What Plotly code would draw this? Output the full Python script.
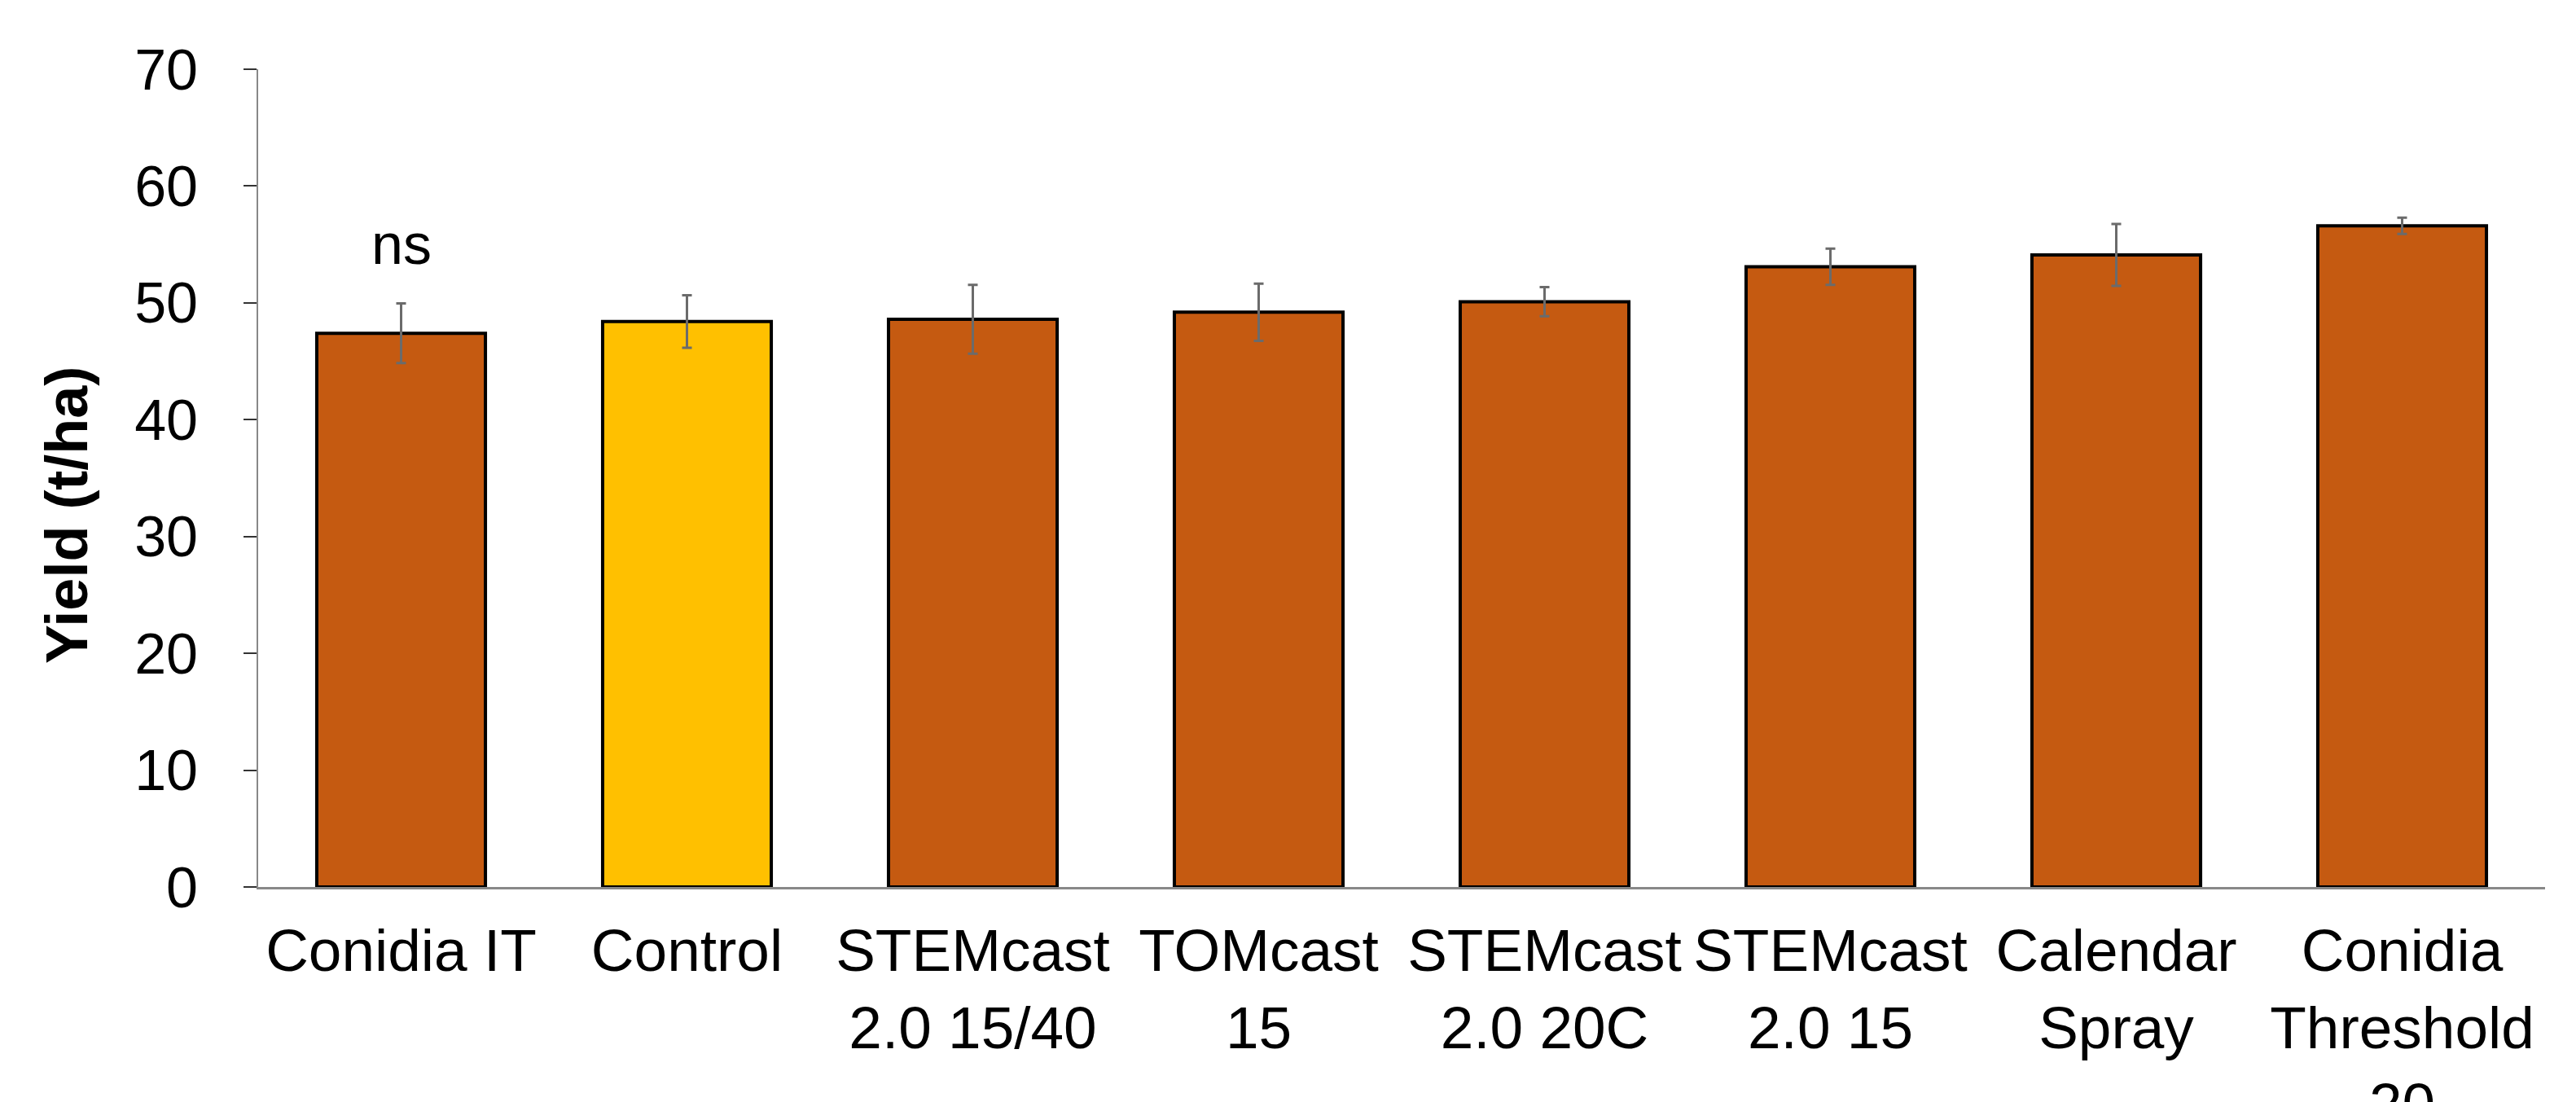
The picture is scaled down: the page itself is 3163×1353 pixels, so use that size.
import plotly.graph_objects as go

categories = ["Conidia IT", "Control", "STEMcast<br>2.0 15/40", "TOMcast<br>15",
              "STEMcast<br>2.0 20C", "STEMcast<br>2.0 15", "Calendar<br>Spray",
              "Conidia<br>Threshold<br>20"]
yield_vals = [47.4, 48.4, 48.6, 49.2, 50.1, 53.1, 54.1, 56.6]
err_vals = [2.55, 2.25, 2.95, 2.45, 1.25, 1.55, 2.65, 0.7]
bar_colors = ["#C55A11", "#FFC000", "#C55A11", "#C55A11", "#C55A11", "#C55A11", "#C55A11", "#C55A11"]
y_ticks = [0, 10, 20, 30, 40, 50, 60, 70]

W, H = 3163, 1353
L, R, T, B = 309, 46, 77, 272
FONT = "Liberation Sans, Arial, sans-serif"

fig = go.Figure()
fig.add_trace(go.Bar(
    x=categories, y=yield_vals,
    marker=dict(color=bar_colors, line=dict(color="#000000", width=4)),
    error_y=dict(type="data", array=err_vals, visible=True,
                 color="#6b6b6b", thickness=3, width=6),
    showlegend=False,
))

fig.add_annotation(x=categories[0], y=55, text="ns", showarrow=False,
                   xref="x", yref="y", font=dict(family=FONT, size=70, color="#000"))

fig.add_annotation(x=(74 - L) / (W - L - R), y=(H - B - 625) / (H - T - B),
                   xref="paper", yref="paper", text="<b>Yield (t/ha)</b>",
                   textangle=-90, showarrow=False, xanchor="center", yanchor="middle",
                   font=dict(family=FONT, size=72, color="#000"))

fig.update_layout(
    width=W, height=H,
    margin=dict(l=L, r=R, t=T, b=B, autoexpand=False),
    paper_bgcolor="white", plot_bgcolor="white",
    bargap=0.41,
    font=dict(family=FONT, color="#000"),
)
fig.update_xaxes(
    showline=True, linecolor="#888888", linewidth=3,
    ticks="", tickangle=0, tickfont=dict(family=FONT, size=73, color="#000"),
    ticklabelstandoff=12, showgrid=False, zeroline=False, automargin=False,
)
fig.update_yaxes(
    range=[0, 70], tickvals=y_ticks, showline=True, linecolor="#888888", linewidth=2,
    ticks="outside", ticklen=16, tickwidth=2, tickcolor="#333333",
    tickfont=dict(family=FONT, size=70, color="#000"),
    ticklabelstandoff=42, showgrid=False, zeroline=False, automargin=False,
)

fig.write_html("out.html")
